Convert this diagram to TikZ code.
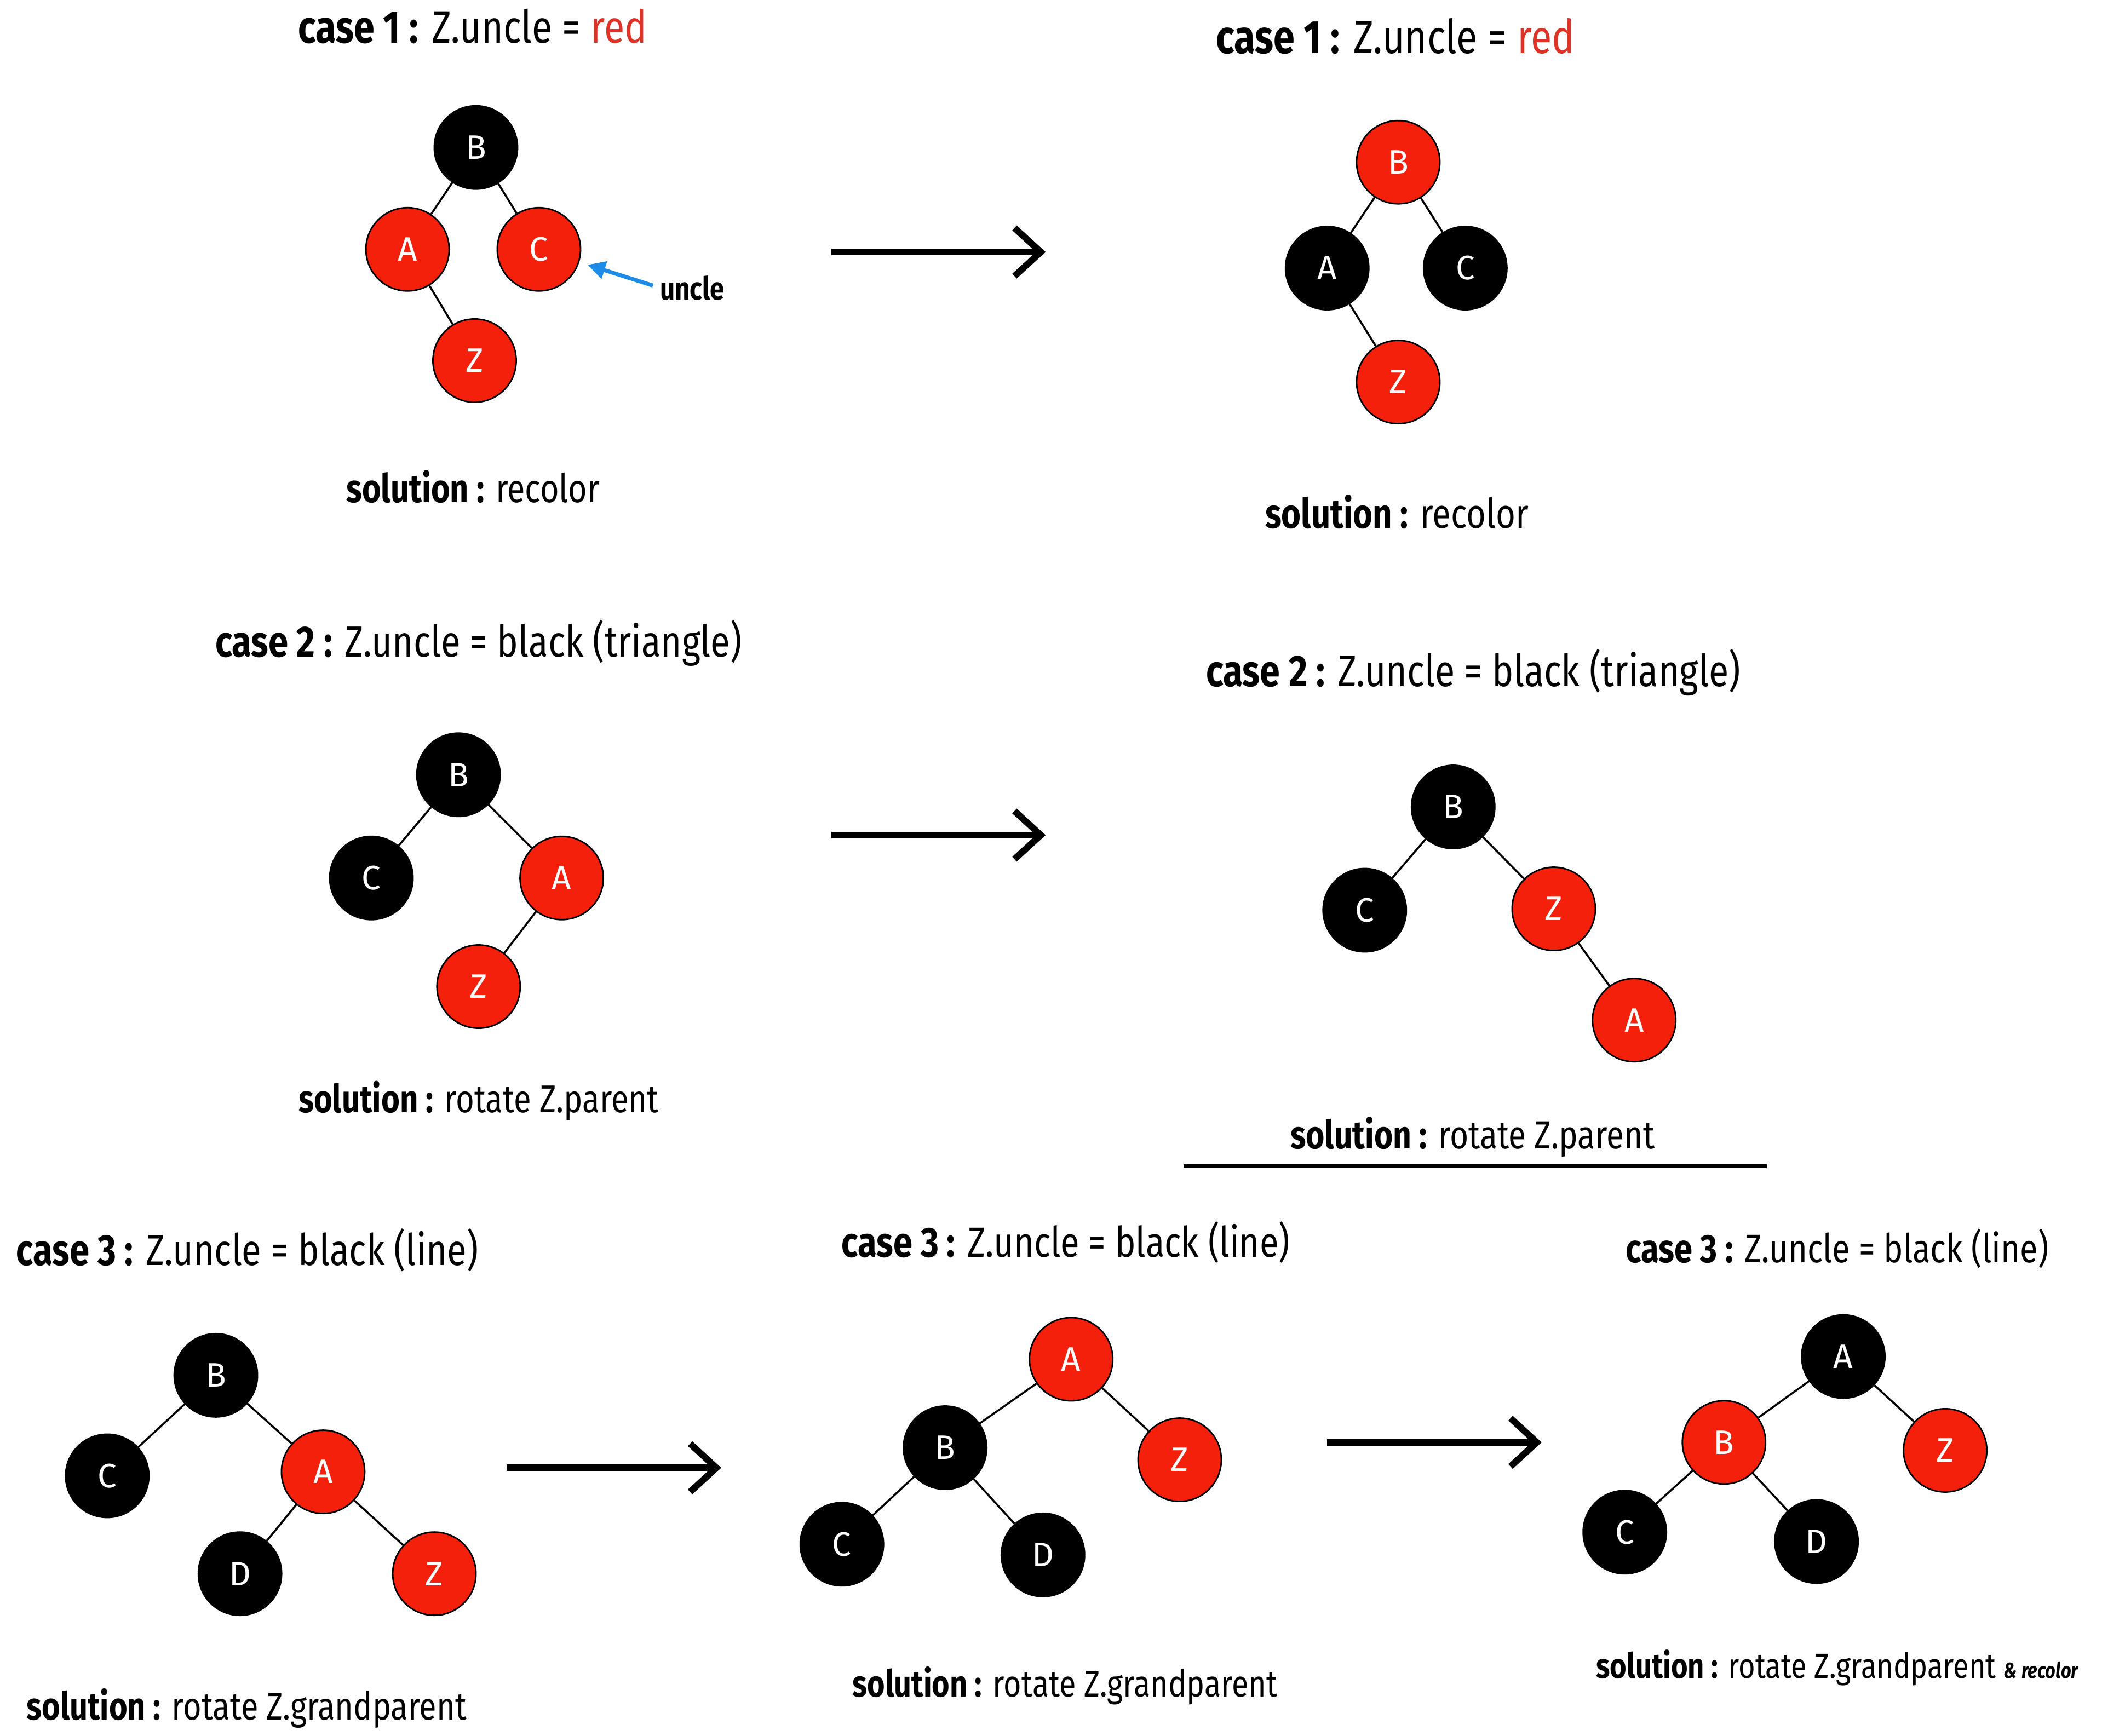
\documentclass[tikz,border=0pt]{standalone}
\usepackage{fontspec}
\setmainfont{Fira Sans}[FakeStretch=0.82]
\newfontfamily\nodefont{Fira Sans}
\usetikzlibrary{arrows.meta}
\definecolor{rbred}{RGB}{245,32,12}
\definecolor{txtred}{RGB}{222,50,38}
\definecolor{unclebl}{RGB}{28,140,232}
\tikzset{
 rbnode/.style={circle, draw=black, line width=0.7pt, minimum size=38pt, inner sep=0pt, font=\nodefont\fontsize{15.5}{15.5}\selectfont, text=white},
 rn/.style={rbnode, fill=rbred},
 bn/.style={rbnode, fill=black},
 edge/.style={line width=0.9pt},
 title/.style={anchor=base, font=\fontsize{#1}{#1}\selectfont, inner sep=0pt},
 title/.default=20.3,
 sol/.style={anchor=base, font=\fontsize{#1}{#1}\selectfont, inner sep=0pt},
 sol/.default=18,
 bigarrow/.style={line width=3pt, -{Straight Barb[length=12pt, width=22pt]}}
}
\begin{document}
\begin{tikzpicture}[x=0.6119pt, y=-0.6119pt]
\useasboundingbox (0,0) rectangle (1568,1295);
\fill[white] (0,0) rectangle (1568,1295);

% ---------- case 1 left
\node[title=20.8] (t1l) at (352.5,32) {\textbf{case 1 :} Z.uncle = \textcolor{txtred}{red}};
\node[bn] (l1B) at (355,110) {B};
\node[rn] (l1A) at (304,186) {A};
\node[rn] (l1C) at (402,186) {C};
\node[rn] (l1Z) at (354,269) {Z};
\draw[edge] (l1B) -- (l1A);
\draw[edge] (l1B) -- (l1C);
\draw[edge] (l1A) -- (l1Z);
\node[anchor=west, inner sep=0pt, font=\bfseries\fontsize{14.5}{14.5}\selectfont] (uncle) at (492,215) {uncle};
\coordinate (uncleS) at (487,213);
\draw[unclebl, line width=1.8pt, shorten >=4pt, -{Triangle[length=8pt, width=8pt]}] (uncleS) -- (l1C);
\node[sol=18.1] (s1l) at (353,375) {\textbf{solution :} recolor};

\draw[bigarrow] (620,188) coordinate (a1s) -- (780,188) coordinate (a1e);

% ---------- case 1 right
\node[title=21.4] (t1r) at (1041,40) {\textbf{case 1 :} Z.uncle = \textcolor{txtred}{red}};
\node[rn] (r1B) at (1043,121) {B};
\node[bn] (r1A) at (990,200) {A};
\node[bn] (r1C) at (1093,200) {C};
\node[rn] (r1Z) at (1043,285) {Z};
\draw[edge] (r1B) -- (r1A);
\draw[edge] (r1B) -- (r1C);
\draw[edge] (r1A) -- (r1Z);
\node[sol=18.8] (s1r) at (1042,394) {\textbf{solution :} recolor};

% ---------- case 2 left
\node[title=19.9] (t2l) at (357,490) {\textbf{case 2 :} Z.uncle = black (triangle)};
\node[bn] (l2B) at (342,578) {B};
\node[bn] (l2C) at (277,655) {C};
\node[rn] (l2A) at (419,655) {A};
\node[rn] (l2Z) at (357,736) {Z};
\draw[edge] (l2B) -- (l2C);
\draw[edge] (l2B) -- (l2A);
\draw[edge] (l2A) -- (l2Z);
\node[sol=17.7] (s2l) at (357,830) {\textbf{solution :} rotate Z.parent};

\draw[bigarrow] (620,623) coordinate (a2s) -- (780,623) coordinate (a2e);

% ---------- case 2 right
\node[title=20.2] (t2r) at (1099,512) {\textbf{case 2 :} Z.uncle = black (triangle)};
\node[bn] (r2B) at (1084,602) {B};
\node[bn] (r2C) at (1018,679) {C};
\node[rn] (r2Z) at (1159,678) {Z};
\node[rn] (r2A) at (1219,761) {A};
\draw[edge] (r2B) -- (r2C);
\draw[edge] (r2B) -- (r2Z);
\draw[edge] (r2Z) -- (r2A);
\node[sol=17.9] (s2r) at (1098.5,857) {\textbf{solution :} rotate Z.parent};
\draw[line width=1.6pt] (883,870) coordinate (ul1) -- (1318,870) coordinate (ul2);

% ---------- case 3 left
\node[title=19.9] (t3l) at (184.5,944) {\textbf{case 3 :} Z.uncle = black (line)};
\node[bn] (l3B) at (161,1026) {B};
\node[bn] (l3C) at (80,1101) {C};
\node[rn] (l3A) at (241,1098) {A};
\node[bn] (l3D) at (179,1174) {D};
\node[rn] (l3Z) at (324,1174) {Z};
\draw[edge] (l3B) -- (l3C);
\draw[edge] (l3B) -- (l3A);
\draw[edge] (l3A) -- (l3D);
\draw[edge] (l3A) -- (l3Z);
\node[sol=17.6] (s3l) at (184,1283) {\textbf{solution :} rotate Z.grandparent};

\draw[bigarrow] (378,1095) coordinate (a3s) -- (538,1095) coordinate (a3e);

% ---------- case 3 middle
\node[title=19.3] (t3m) at (795,938) {\textbf{case 3 :} Z.uncle = black (line)};
\node[rn] (m3A) at (799,1014) {A};
\node[bn] (m3B) at (705,1080) {B};
\node[rn] (m3Z) at (880,1089) {Z};
\node[bn] (m3C) at (628,1152) {C};
\node[bn] (m3D) at (778,1160) {D};
\draw[edge] (m3A) -- (m3B);
\draw[edge] (m3A) -- (m3Z);
\draw[edge] (m3B) -- (m3C);
\draw[edge] (m3B) -- (m3D);
\node[sol=17] (s3m) at (794.5,1266) {\textbf{solution :} rotate Z.grandparent};

\draw[bigarrow] (990,1076) coordinate (a4s) -- (1150,1076) coordinate (a4e);

% ---------- case 3 right
\node[title=18.2] (t3r) at (1370.5,942) {\textbf{case 3 :} Z.uncle = black (line)};
\node[bn] (r3A) at (1375,1012) {A};
\node[rn] (r3B) at (1286,1076) {B};
\node[rn] (r3Z) at (1451,1082) {Z};
\node[bn] (r3C) at (1212,1143) {C};
\node[bn] (r3D) at (1355,1150) {D};
\draw[edge] (r3A) -- (r3B);
\draw[edge] (r3A) -- (r3Z);
\draw[edge] (r3B) -- (r3C);
\draw[edge] (r3B) -- (r3D);
\node[sol=16] (s3r) at (1370.5,1252) {\textbf{solution :} rotate Z.grandparent {\fontsize{10}{10}\selectfont\bfseries\itshape \& recolor}};
\end{tikzpicture}
\end{document}
